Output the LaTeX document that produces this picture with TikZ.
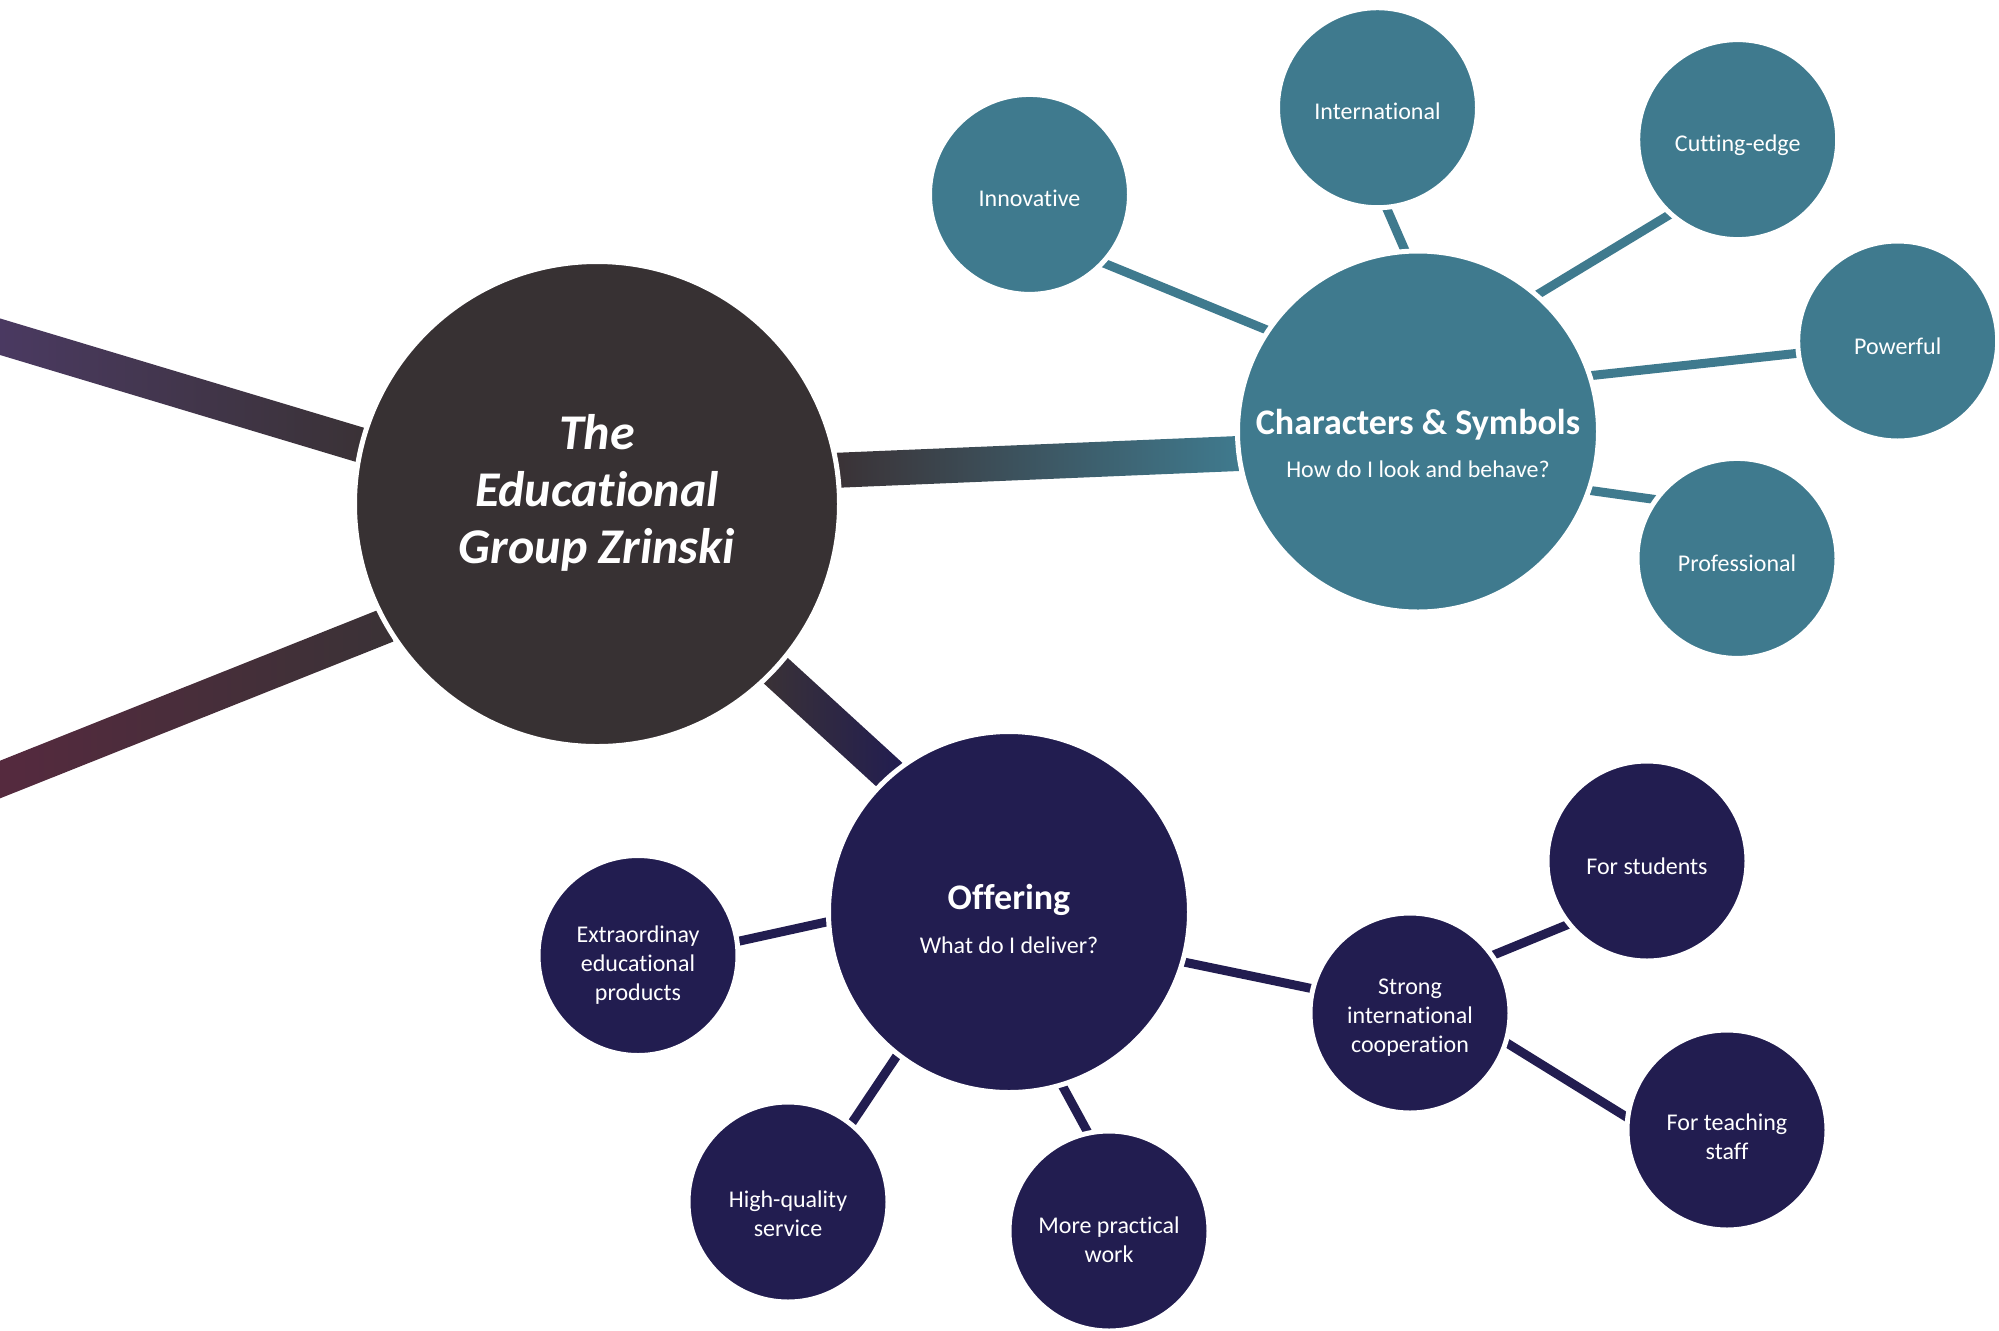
\documentclass[tikz,border=0pt]{standalone}
\usepackage{fontspec}
\setmainfont{Carlito}[Ligatures={NoCommon}]
\usetikzlibrary{calc}

\definecolor{coreC}{HTML}{373133}
\definecolor{tealC}{HTML}{3F7A8E}
\definecolor{navyC}{HTML}{221D50}
\definecolor{plumC}{HTML}{4B3A64}
\definecolor{wineC}{HTML}{57293F}
\definecolor{joinC}{HTML}{3A3236}

\pgfdeclarelayer{links}
\pgfsetlayers{links,main}

\tikzset{
  bubble/.style={circle, draw=white, line width=2.5pt, outer sep=0pt, inner sep=0pt},
  leaf/.style={bubble, minimum size=100pt},
  tealleaf/.style={leaf, fill=tealC},
  navyleaf/.style={leaf, fill=navyC},
  hub/.style={bubble, minimum size=180.5pt},
  leaftext/.style={text=white, align=center, inner sep=0pt, font=\fontsize{12}{14.5}\selectfont},
  hubtitle/.style={text=white, inner sep=0pt, font=\fontsize{18}{20}\selectfont\bfseries},
  hubsub/.style={text=white, inner sep=0pt, font=\fontsize{12}{14.5}\selectfont},
  thinlink/.style={line width=4.5pt},
}

% thick bar with a colour gradient between two points
\newcommand\gradbar[4]{%
  \shade[left color=#3, right color=#4]
    ($(#1)!8.75pt!90:(#2)$) -- ($(#1)!8.75pt!-90:(#2)$) --
    ($(#2)!8.75pt!90:(#1)$) -- ($(#2)!8.75pt!-90:(#1)$) -- cycle;}

\begin{document}
\begin{tikzpicture}[x=0.5pt,y=-0.5pt]
\useasboundingbox (0,0) rectangle (1999,1330);
\clip (0,0) rectangle (1999,1330);

% central node
\node[bubble, fill=coreC, minimum size=242.5pt] (main) at (597,504) {};
\node[text=white, align=center, inner sep=0pt,
      font=\fontsize{25}{28.5}\selectfont\bfseries\itshape]
      (maintext) at ([yshift=5.7pt]main.center) {The\\Educational\\Group Zrinski};

% branch hubs
\node[hub, fill=tealC] (char) at (1418,431.5) {};
\node[hubtitle] (chart) at ([yshift=3.5pt]char.center) {Characters \& Symbols};
\node[hubsub] (chars) at ([yshift=-18.75pt]char.center) {How do I look and behave?};

\node[hub, fill=navyC] (offer) at (1009,912) {};
\node[hubtitle] (offert) at ([yshift=6pt]offer.center) {Offering};
\node[hubsub] (offers) at ([yshift=-16.5pt]offer.center) {What do I deliver?};

% character leaves
\node[tealleaf] (inno) at (1029.5,194.4) {};
\node[tealleaf] (intl) at (1377.5,107.7) {};
\node[tealleaf] (cut)  at (1737.7,139.6) {};
\node[tealleaf] (pow)  at (1897.7,341)   {};
\node[tealleaf] (prof) at (1737,558.4)   {};
\node[leaftext] (innot) at ([yshift=-2pt]inno.center)  {Innovative};
\node[leaftext] (intlt) at ([yshift=-2pt]intl.center)  {International};
\node[leaftext] (cutt)  at ([yshift=-3pt]cut.center)   {Cutting-edge};
\node[leaftext] (powt)  at ([yshift=-2.5pt]pow.center) {Powerful};
\node[leaftext] (proft) at ([yshift=-2.5pt]prof.center) {Professional};

% offering leaves
\node[navyleaf] (extra)  at (638,955.5) {};
\node[navyleaf] (hq)     at (788,1202)  {};
\node[navyleaf] (mp)     at (1109,1231) {};
\node[navyleaf] (strong) at (1410,1013) {};
\node[navyleaf] (stud)   at (1647,861)  {};
\node[navyleaf] (teach)  at (1727,1130) {};
\node[leaftext] (extrat)  at ([yshift=-5pt]extra.center)    {Extraordinay\\educational\\products};
\node[leaftext] (hqt)     at ([yshift=-6pt]hq.center)       {High-quality\\service};
\node[leaftext] (mpt)     at ([yshift=-4.5pt]mp.center)     {More practical\\work};
\node[leaftext] (strongt) at ([yshift=-2.5pt]strong.center) {Strong\\international\\cooperation};
\node[leaftext] (studt)   at ([yshift=-2.5pt]stud.center)   {For students};
\node[leaftext] (teacht)  at ([yshift=-3.5pt]teach.center)  {For teaching\\staff};

% branches leaving the picture on the left
\coordinate (ul) at (-20,330.7);
\coordinate (ll) at (-20,787.5);

\begin{pgfonlayer}{links}
  \gradbar{ul}{main.166.1}{plumC}{joinC}
  \gradbar{ll}{main.210.1}{wineC}{joinC}
  \gradbar{main.8.1}{char.187.9}{joinC}{tealC}
  \gradbar{main.-43.7}{offer.131.2}{joinC}{navyC}

  \begin{scope}[thinlink, draw=tealC]
    \draw (inno.-43)     -- (char.146.8);
    \draw (intl.-85.4)   -- (char.94.8);
    \draw (cut.-132.8)   -- (char.49.4);
    \draw (pow.187.6)    -- (char.18.9);
    \draw (prof.144.9)   -- (char.-19.3);
  \end{scope}
  \begin{scope}[thinlink, draw=navyC]
    \draw (extra.8.8)    -- (offer.183.8);
    \draw (hq.51.6)      -- (offer.232.7);
    \draw (mp.102.1)     -- (offer.-73.2);
    \draw (offer.-16.3)  -- (strong.166);
    \draw (strong.35.2)  -- (stud.219.3);
    \draw (strong.-17.9) -- (teach.173.9);
  \end{scope}
\end{pgfonlayer}
\end{tikzpicture}
\end{document}
